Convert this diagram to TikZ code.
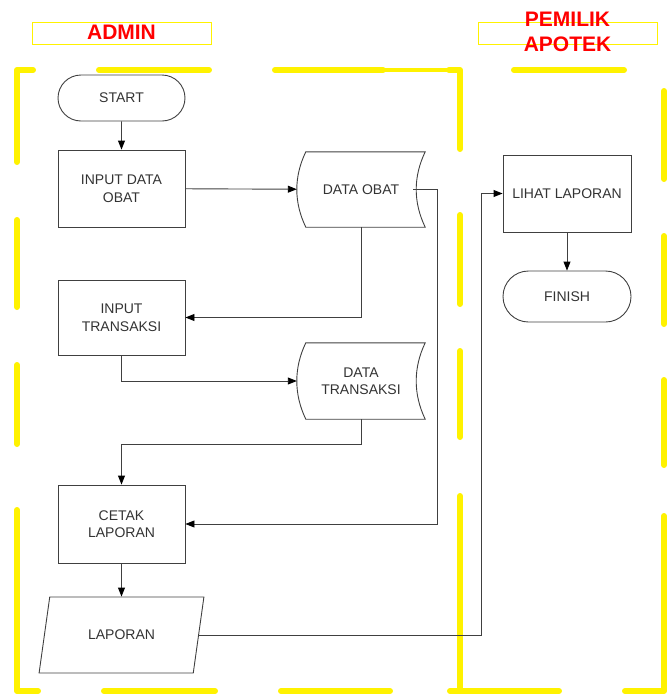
\documentclass[tikz,border=0pt]{standalone}
\usepackage{fontspec}
\setmainfont{Liberation Sans}
\usetikzlibrary{positioning, arrows.meta, shapes.geometric, shapes.misc}
\newcommand{\lanecolor}{yellow}
\newcommand{\linecolor}{black!75}
\newcommand{\labelcolor}{black!80}
% outline of a stored data node (curved sides)
\newcommand{\storeoutline}[1]{%
  \draw[\linecolor, line width=0.9pt] ([xshift=9pt]#1.north west) -- (#1.north east)
    .. controls ([xshift=-12pt,yshift=-25pt]#1.north east) and ([xshift=-12pt,yshift=25pt]#1.south east) .. (#1.south east)
    -- ([xshift=9pt]#1.south west)
    .. controls ([xshift=-3pt,yshift=25pt]#1.south west) and ([xshift=-3pt,yshift=-25pt]#1.north west) .. cycle;}

\begin{document}
\begin{tikzpicture}[
      % GLOBAL CFG
      x=1pt, y=-1pt,
      font=\fontsize{14}{17.5}\selectfont,
      >={Triangle[length=9pt,width=7pt,color=black]},
      % Styles
      terminal/.style={% For start and finish
        rounded rectangle,
        draw=\linecolor,
        line width=0.9pt,
        text=\labelcolor,
        minimum width=127,
        minimum height=46,
        inner sep=0pt
      },
      process/.style={% For processes
        rectangle,
        draw=\linecolor,
        line width=0.9pt,
        text=\labelcolor,
        align=center,
        minimum width=127,
        minimum height=77,
        inner sep=0pt
      },
      storedata/.style={% For stored data, outline drawn by \storeoutline
        rectangle,
        text=\labelcolor,
        align=center,
        minimum width=128,
        minimum height=76,
        inner sep=0pt
      },
      iodata/.style={% For documents
        trapezium,
        trapezium left angle=63.4,
        trapezium right angle=116.6,
        trapezium stretches=true,
        draw=\linecolor,
        line width=0.9pt,
        text=\labelcolor,
        minimum width=165,
        minimum height=76,
        inner sep=0pt
      },
      lanetitle/.style={% Boxes round the lane names
        rectangle,
        draw=\lanecolor,
        line width=1pt,
        minimum width=179,
        minimum height=22
      },
      lanename/.style={
        text=red,
        align=center,
        font=\fontsize{21}{25.5}\selectfont\bfseries
      },
      laneline/.style={% Dashes of the lanes
        draw=\lanecolor,
        line width=6pt,
        line cap=round,
        line join=round
      },
      arrowflow/.style={% Arrows between steps
        draw=\linecolor,
        line width=0.9pt,
        ->
      }
      ]
      \useasboundingbox (0,0) rectangle (669,694);

      % Lanes
      \draw [laneline] (33,70) -- (17,70) -- (17,162);
      \foreach \a/\b in {99/209, 275/383, 514/624}
        \draw [laneline] (\a,70) -- (\b,70);
      \draw [draw=\lanecolor, line width=4pt] (383,70) -- (452,70);
      \draw [laneline] (449,70) -- (460,70) -- (460,149);
      \foreach \a/\b in {220/307, 365/444}
        \draw [laneline] (17,\a) -- (17,\b);
      \draw [laneline] (17,510) -- (17,691) -- (38,691);
      \foreach \a/\b in {215/304, 351/437, 496/694}
        \draw [laneline] (460,\a) -- (460,\b);
      \foreach \a/\b in {91/179, 236/324, 380/465}
        \draw [laneline] (664,\a) -- (664,\b);
      \draw [laneline] (664,516) -- (664,691) -- (625,691);
      \foreach \a/\b in {104/215, 281/390, 450/559}
        \draw [laneline] (\a,691) -- (\b,691);

      \node [lanetitle] (adminbox) at (121.5,33) {};
      \node [lanename] (admin) at (121.5,32.5) {ADMIN};
      \node [lanetitle] (ownerbox) at (567.5,33) {};
      \node [lanename] (owner) at (567.5,32) {PEMILIK\\APOTEK};

      % Admin steps
      \node [terminal] (start) at (121.5,98) {START};
      \node [process] (inobat) at (121.5,188.5) {INPUT DATA\\OBAT};
      \node [storedata, minimum height=75] (dobat) at (361,189.5) {DATA OBAT};
      \storeoutline{dobat}
      \node [process, minimum height=75] (intrans) at (121.5,317.5) {INPUT\\TRANSAKSI};
      \node [storedata] (dtrans) at (361,381) {DATA\\TRANSAKSI};
      \storeoutline{dtrans}
      \node [process, minimum height=78] (cetak) at (121.5,524) {CETAK\\LAPORAN};
      \node [iodata] (lap) at (121.5,635) {LAPORAN};

      % Owner steps
      \node [process, minimum width=128] (lihat) at (567,193.5) {LIHAT LAPORAN};
      \node [terminal, minimum width=128, minimum height=51] (finish) at (567,296.5) {FINISH};
      \coordinate (bend) at (481,193.5);

      \draw [arrowflow] (start) -- (inobat);
      \draw [arrowflow] (inobat) -- (dobat);
      \draw [arrowflow] (dobat.south) |- (intrans.east);
      \draw [arrowflow] ([xshift=-12pt]dobat.east) -- ++(24,0) |- (cetak.east);
      \draw [arrowflow] (intrans.south) |- (dtrans.west);
      \draw [arrowflow] (dtrans.south) -- ++(0,25) -| (cetak.north);
      \draw [arrowflow] (cetak) -- (lap);
      \draw [arrowflow] (lap.east) -| (bend) -- (lihat.west);
      \draw [arrowflow] (lihat) -- (finish);

    \end{tikzpicture}
\end{document}
